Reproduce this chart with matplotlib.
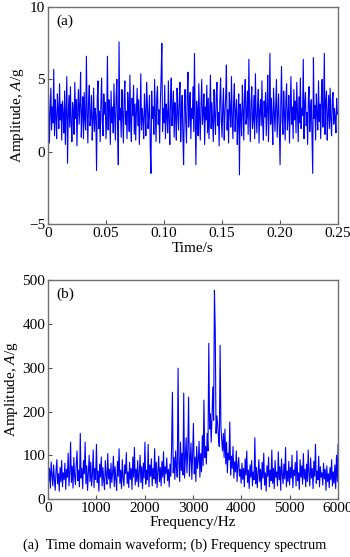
import matplotlib
matplotlib.use("Agg")
import matplotlib.pyplot as plt
import numpy as np
from matplotlib.ticker import FixedLocator, FixedFormatter

params = {
    "font.family": "serif",
    "font.serif": ["Liberation Serif", "DejaVu Serif"],
    "font.size": 11,
    "mathtext.fontset": "custom",
    "mathtext.rm": "Liberation Serif",
    "mathtext.it": "Liberation Serif:italic",
    "axes.unicode_minus": True,
    "xtick.direction": "in",
    "ytick.direction": "in",
    "xtick.major.size": 3,
    "ytick.major.size": 3,
    "axes.linewidth": 1.0,
    "axes.edgecolor": "#707070",
}
plt.rcParams.update(params)

fs_time = 1600.0
amp_time = [
    1.8, 3.9, 0.6, 2.7, 4.4, 1.5, 3.1, 2.0, 5.7, 1.1, 3.6, 2.4, 0.9, 4.0, 2.9, 1.6, 4.7, 2.2, 3.3, 0.8,
    3.5, 2.6, 1.3, 4.2, 0.5, 3.0, 5.2, -0.8, 2.5, 3.9, 1.7, 4.5, 2.0, 0.7, 3.4, 2.8, 1.2, 4.8, 2.3, 3.6,
    0.4, 2.9, 4.3, 1.9, 3.2, 5.5, 1.0, 2.6, 3.8, 0.9, 4.1, 2.2, 1.5, 6.6, 2.7, 0.6, 3.5, 4.6, 1.8, 2.4,
    3.9, 0.8, 2.1, 4.4, 1.4, 3.0, 2.5, -1.3, 3.7, 4.9, 1.6, 2.8, 0.7, 3.3, 5.1, 2.0, 1.1, 4.0, 2.6, 3.4,
    0.9, 2.3, 6.6, 1.5, 3.6, 2.9, 0.5, 4.2, 2.0, 3.1, 1.3, 4.7, 2.4, 0.8, 3.8, 5.0, 1.7, -0.9, 7.6, 2.2,
    3.0, 1.0, 4.3, 2.6, 0.6, 3.5, 4.9, 1.9, 2.8, 0.9, 4.1, 3.2, 1.4, 5.3, 2.1, 0.7, 3.7, 2.5, 4.6, 1.2,
    3.3, 0.8, 2.9, 4.4, 1.8, 3.6, 0.5, 2.4, 5.4, 1.5, 3.0, 2.2, 0.9, 4.0, 2.7, 1.1, 4.8, 3.4, 1.6, 2.5,
    3.9, 0.3, -1.5, 4.2, 2.3, 3.1, 1.2, 5.0, 2.6, 0.7, 3.8, 4.5, 1.9, 2.9, 0.6, 3.5, 5.2, 7.5, 1.4, 3.0,
    2.0, 4.6, 0.9, 3.3, 2.7, 1.3, 4.9, 2.2, 0.5, 3.7, 5.1, 1.8, 2.9, 4.2, 1.0, 3.4, 2.4, 0.8, 4.4, 2.8,
    1.5, 3.6, 4.8, 0.7, 2.5, 3.9, 1.2, -0.9, 3.2, 4.3, 2.0, 0.6, 3.8, 5.5, 1.7, 2.6, 4.1, 0.9, 3.0, 2.3,
    4.5, 1.4, 6.8, 2.1, -0.9, 3.5, 2.8, 1.1, 4.7, 2.4, 0.8, 3.3, 5.0, 1.9, 2.6, 4.0, 0.5, 3.1, 2.2, 4.6,
    1.3, 3.7, 0.9, 2.9, 5.3, 1.6, 3.4, 2.0, 0.7, 4.3, 2.5, 1.2, 3.9, 4.8, 1.8, 2.7, 0.4, 3.6, 5.1, 2.2,
    1.0, 3.2, 4.4, 0.8, 2.6, 3.8, 6.0, 1.5, 2.9, 0.6, 4.1, 3.0, 1.7, 5.2, 2.3, 0.9, 3.5, 4.7, 1.4, 2.8,
    3.6, 0.5, 2.1, 4.0, -1.6, 3.3, 2.5, 1.1, 4.6, 2.9, 0.8, 3.7, 5.0, 1.9, 2.4, 4.2, 1.2, 6.4, 2.7, 0.7,
    3.4, 4.5, 1.6, 2.2, 3.9, 0.9, 5.4, 2.6, 1.3, 3.1, 4.3, 0.6, 2.8, 3.6, 1.8, 4.9, 2.0, 0.8, 3.5, 2.4,
    4.1, 1.1, 3.0, 5.3, 0.7, 2.6, 6.8, 1.9, 3.7, 2.3, 0.5, 4.4, 2.9, 1.4, 3.2, 5.0, 1.0, 2.5, 4.0, 1.7,
    -0.9, 3.3, 5.9, 2.1, 1.2, 4.2, 2.7, 0.8, 3.6, 4.7, 1.5, 2.4, 3.9, 0.6, 2.8, 5.2, 1.9, 3.1, 0.9, 4.3,
    2.2, 3.5, 1.3, 4.8, 2.6, 0.7, 3.8, 2.0, 5.1, 1.6, 3.0, 2.5, 6.4, 0.9, 3.4, 4.1, 1.8, 2.7, 0.5, 3.7,
    4.5, 1.4, 2.9, 3.6, 1.0, -1.5, 6.5, 2.3, 3.2, 0.8, 4.0, 2.6, 1.5, 4.9, 2.1, 3.3, 0.9, 3.8, 5.0, 1.7,
    2.8, 6.8, 1.2, 3.5, 4.2, 0.8, 2.5, 3.9, 1.6, 4.4, 2.2, 1.1, 3.6, 4.1, 1.9, 3.0, 2.4, 1.3, 3.7, 2.6,
]

# (b) frequency spectrum, 0-6000 Hz
freq_max = 6000.0
amp_spec = [
    95, 40, 70, 25, 85, 55, 30, 78, 45, 20, 65, 90, 35, 58, 18, 72, 40, 88, 28, 60,
    45, 82, 22, 68, 50, 105, 30, 62, 130, 38, 75, 25, 95, 52, 33, 80, 110, 42, 66, 28,
    150, 48, 70, 24, 88, 58, 130, 35, 76, 20, 62, 100, 40, 84, 30, 56, 112, 26, 70, 45,
    125, 38, 64, 18, 80, 50, 96, 30, 72, 42, 22, 88, 55, 34, 104, 46, 68, 25, 82, 38,
    60, 98, 28, 74, 44, 20, 86, 52, 115, 36, 66, 24, 90, 48, 30, 78, 58, 106, 35, 62,
    26, 84, 45, 70, 22, 96, 50, 118, 32, 68, 40, 88, 28, 60, 100, 38, 74, 24, 82, 48,
    130, 34, 66, 44, 125, 28, 78, 52, 92, 30, 70, 46, 115, 36, 84, 26, 62, 98, 40, 72,
    30, 86, 50, 108, 36, 74, 58, 94, 42, 68, 28, 80, 52, 120, 244, 60, 95, 45, 110, 70,
    50, 299, 85, 40, 130, 65, 105, 55, 242, 48, 92, 140, 60, 110, 233, 52, 88, 128, 45, 100,
    173, 58, 96, 40, 120, 70, 88, 132, 50, 104, 62, 145, 76, 226, 95, 120, 80, 150, 110, 356,
    160, 195, 130, 188, 256, 180, 477, 385, 150, 190, 170, 140, 120, 351, 165, 135, 110, 150, 95, 160,
    80, 130, 60, 105, 90, 176, 55, 98, 70, 120, 48, 85, 62, 110, 40, 78, 95, 52, 68, 36,
    82, 45, 70, 28, 92, 55, 110, 38, 66, 24, 78, 50, 88, 30, 62, 44, 140, 35, 72, 26,
    58, 90, 40, 68, 22, 84, 48, 105, 32, 60, 18, 76, 52, 96, 28, 66, 42, 112, 36, 70,
    24, 88, 50, 62, 30, 108, 44, 74, 20, 92, 56, 35, 80, 46, 118, 28, 64, 40, 86, 32,
    72, 48, 100, 26, 66, 54, 84, 30, 110, 42, 60, 22, 90, 50, 76, 34, 104, 46, 68, 28,
    80, 40, 112, 56, 30, 94, 48, 70, 24, 86, 52, 125, 36, 64, 44, 98, 28, 74, 50, 60,
    32, 82, 46, 68, 20, 76, 40, 58, 26, 72, 44, 90, 30, 62, 36, 78, 24, 100, 40, 125,
]

time_ticks = [0, 0.05, 0.10, 0.15, 0.20, 0.25]
time_labels = ["0", "0.05", "0.10", "0.15", "0.20", "0.25"]
freq_ticks = [0, 1000, 2000, 3000, 4000, 5000, 6000]

t = np.arange(len(amp_time)) / fs_time
f = np.arange(len(amp_spec)) * freq_max / (len(amp_spec) - 1)

fig = plt.figure(figsize=(3.5, 5.57), dpi=100)
ax1 = fig.add_axes([0.137, 0.598, 0.829, 0.389])
ax2 = fig.add_axes([0.137, 0.104, 0.829, 0.393])

ax1.plot(t, amp_time, color="blue", lw=0.8)
ax1.set_xlim(0, 0.25)
ax1.set_ylim(-5, 10)
ax1.set_yticks([-5, 0, 5, 10])
ax1.xaxis.set_major_locator(FixedLocator(time_ticks))
ax1.xaxis.set_major_formatter(FixedFormatter(time_labels))
ax1.set_xlabel("Time/s", labelpad=2)
ax1.set_ylabel("Amplitude, $\\mathit{A}$/g", labelpad=2)
ax1.text(0.03, 0.965, "(a)", transform=ax1.transAxes, va="top", ha="left")

ax2.plot(f, amp_spec, color="blue", lw=0.8)
ax2.set_xlim(0, 6000)
ax2.set_ylim(0, 500)
ax2.set_yticks([0, 100, 200, 300, 400, 500])
ax2.set_xticks(freq_ticks)
ax2.set_xlabel("Frequency/Hz", labelpad=1)
ax2.set_ylabel("Amplitude, $\\mathit{A}$/g", labelpad=2)
ax2.text(0.03, 0.965, "(b)", transform=ax2.transAxes, va="top", ha="left")

for ax in (ax1, ax2):
    ax.tick_params(axis="both", labelcolor="black", color="#505050", pad=2, labelsize=11)

fig.text(0.5, 0.022, "(a)  Time domain waveform; (b) Frequency spectrum",
         ha="center", va="center", fontsize=10.3)

fig.savefig("out.png", dpi=100)
